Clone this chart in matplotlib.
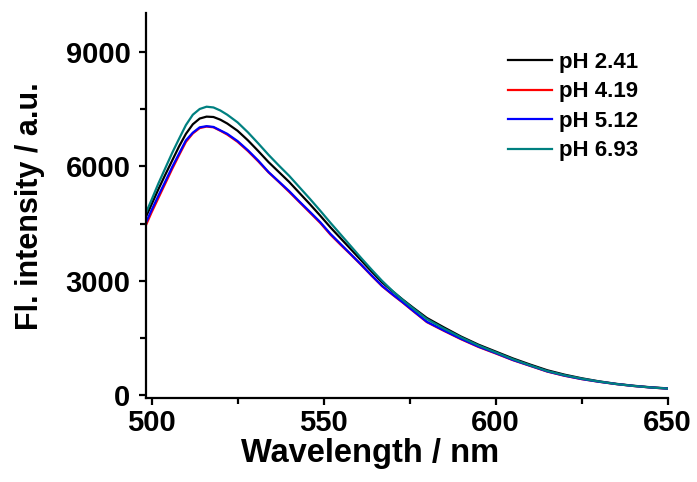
import matplotlib
matplotlib.use("Agg")
import matplotlib.pyplot as plt
from matplotlib.ticker import MultipleLocator

plt.rcParams["font.family"] = ["Liberation Sans", "DejaVu Sans"]
plt.rcParams["font.weight"] = "bold"

wavelength = [498, 500, 502, 504, 506, 508, 510, 512, 514, 516, 518, 520, 522,
              525, 528, 531, 534, 537, 540, 543, 546, 549, 552, 555, 558, 561,
              564, 567, 570, 573, 576, 580, 585, 590, 595, 600, 605, 610, 615,
              620, 625, 630, 635, 640, 645, 650]

ph_241 = [4600, 5000, 5400, 5780, 6150, 6520, 6850, 7100, 7250, 7300, 7290, 7220, 7120,
          6930, 6680, 6400, 6110, 5850, 5590, 5300, 5010, 4710, 4400, 4110, 3820, 3530,
          3240, 2960, 2730, 2510, 2300, 2030, 1780, 1540, 1330, 1150, 970, 810, 660,
          545, 450, 370, 305, 255, 215, 185]
ph_419 = [4380, 4790, 5170, 5550, 5930, 6290, 6640, 6860, 7000, 7040, 7020, 6930, 6830,
          6640, 6400, 6130, 5840, 5590, 5330, 5060, 4790, 4520, 4210, 3940, 3680, 3410,
          3130, 2860, 2640, 2430, 2210, 1920, 1690, 1470, 1270, 1100, 925, 775, 625,
          515, 428, 358, 298, 248, 208, 178]
ph_512 = [4450, 4850, 5230, 5600, 5980, 6330, 6680, 6880, 7020, 7050, 7030, 6940, 6850,
          6660, 6420, 6150, 5850, 5600, 5350, 5075, 4810, 4540, 4230, 3960, 3690, 3420,
          3140, 2870, 2650, 2440, 2220, 1930, 1700, 1480, 1280, 1110, 930, 780, 630,
          520, 430, 360, 300, 250, 210, 180]
ph_693 = [4700, 5120, 5550, 5950, 6350, 6720, 7080, 7350, 7500, 7560, 7540, 7460, 7350,
          7150, 6890, 6600, 6300, 6020, 5750, 5450, 5150, 4840, 4520, 4210, 3900, 3590,
          3290, 3000, 2740, 2500, 2280, 2000, 1750, 1520, 1310, 1130, 950, 790, 640,
          530, 440, 365, 300, 250, 210, 180]

series = [("pH 2.41", ph_241, "black"),
          ("pH 4.19", ph_419, "#ff0000"),
          ("pH 5.12", ph_512, "#0000ff"),
          ("pH 6.93", ph_693, "#008080")]

fig = plt.figure(figsize=(6.97, 4.82), dpi=100)
ax = fig.add_axes([0.209, 0.174, 0.749, 0.798])

for label, vals, color in series:
    ax.plot(wavelength, vals, color=color, lw=1.6, label=label)

ax.set_xlim(498.3, 650)
ax.set_ylim(-70, 10000)
ax.xaxis.set_major_locator(MultipleLocator(50))
ax.xaxis.set_minor_locator(MultipleLocator(25))
ax.yaxis.set_major_locator(MultipleLocator(3000))
ax.yaxis.set_minor_locator(MultipleLocator(1500))

for side in ["top", "right"]:
    ax.spines[side].set_visible(False)
for side in ["left", "bottom"]:
    ax.spines[side].set_linewidth(1.6)

ax.tick_params(which="major", direction="out", length=5, width=1.6, labelsize=21)
ax.tick_params(axis="y", which="major", pad=6)
ax.tick_params(axis="x", which="major", pad=3)
ax.tick_params(which="minor", direction="out", length=4, width=1.6)
for lbl in ax.get_xticklabels() + ax.get_yticklabels():
    lbl.set_fontweight("bold")

ax.set_xlabel("Wavelength / nm", fontsize=23.5, fontweight="bold")
ax.xaxis.set_label_coords(0.43, -0.103)
ax.set_ylabel("Fl. intensity / a.u.", fontsize=22, fontweight="bold", labelpad=15)

leg = ax.legend(loc="upper left", bbox_to_anchor=(508 / 697, 1 - 52 / 482),
                bbox_transform=fig.transFigure, frameon=False, borderpad=0,
                borderaxespad=0, fontsize=16, handlelength=2.0,
                labelspacing=0.38, handletextpad=0.3)
for t in leg.get_texts():
    t.set_fontweight("bold")

fig.savefig("out.png", dpi=100)
